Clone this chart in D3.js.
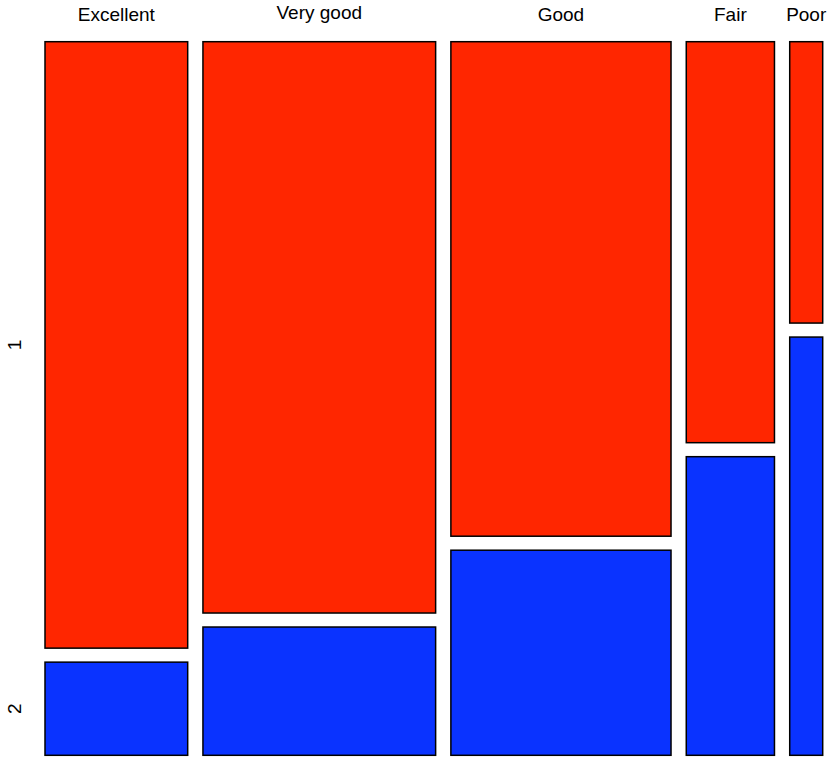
<!DOCTYPE html>
<html>
<head>
<meta charset="utf-8">
<script src="https://cdn.jsdelivr.net/npm/d3@7"></script>
<style>
  html, body { margin: 0; padding: 0; background: #ffffff; }
  svg { display: block; }
</style>
</head>
<body>
<div id="chart"></div>
<script>
// ---- data ----
const categories = ["Excellent", "Very good", "Good", "Fair", "Poor"];
const groups = ["1", "2"];
const group1Counts = [345, 530, 434, 141, 37];
const group2Counts = [53, 119, 180, 105, 55];
const groupColors = ["#FF2600", "#0A33FF"];

// ---- layout ----
const width = 829, height = 758;
const plot = { left: 45, right: 822.7, top: 41.7, bottom: 755.3 };
const gapX = 15.25, gapY = 14;
const fontSize = 19;
const fontFamily = "'Liberation Sans', Arial, Helvetica, sans-serif";

const svg = d3.select("#chart").append("svg")
  .attr("width", width).attr("height", height);

const colTotals = categories.map((c, i) => group1Counts[i] + group2Counts[i]);
const grand = d3.sum(colTotals);
const availW = (plot.right - plot.left) - gapX * (categories.length - 1);
const availH = (plot.bottom - plot.top) - gapY * (groups.length - 1);

const xScale = d3.scaleLinear().domain([0, grand]).range([0, availW]);
const yScale = d3.scaleLinear().domain([0, 1]).range([0, availH]);

const cum = d3.cumsum([0].concat(colTotals));
const cells = [];
categories.forEach((cat, i) => {
  const x0 = plot.left + xScale(cum[i]) + i * gapX;
  const w = xScale(colTotals[i]);
  const counts = [group1Counts[i], group2Counts[i]];
  let yCum = 0;
  counts.forEach((v, g) => {
    const p = v / colTotals[i];
    const y0 = plot.top + yScale(yCum) + g * gapY;
    cells.push({ cat, i, g, x: x0, y: y0, w, h: yScale(p) });
    yCum += p;
  });
});

svg.append("g").selectAll("rect").data(cells).join("rect")
  .attr("x", d => d.x).attr("y", d => d.y)
  .attr("width", d => d.w).attr("height", d => d.h)
  .attr("fill", d => groupColors[d.g])
  .attr("stroke", "#000").attr("stroke-width", 1.5);

// measure glyph extents to center labels on their ink box (like R)
const ctx = document.createElement("canvas").getContext("2d");
ctx.font = fontSize + "px " + fontFamily;
function inkOffset(t) {
  const m = ctx.measureText(t);
  return (m.actualBoundingBoxAscent - m.actualBoundingBoxDescent) / 2;
}

// top category labels
const labelCenterY = 14.4;
svg.append("g").selectAll("text").data(categories).join("text")
  .attr("x", (d, i) => plot.left + xScale(cum[i] + colTotals[i] / 2) + i * gapX)
  .attr("y", d => labelCenterY + inkOffset(d))
  .attr("text-anchor", "middle")
  .style("font-family", fontFamily).style("font-size", fontSize + "px")
  .attr("fill", "#000")
  .text(d => d);

// left group labels (rotated), centered on first column's cells
const firstCol = cells.filter(c => c.i === 0);
const labelCenterX = 14.5;
svg.append("g").selectAll("text").data(firstCol).join("text")
  .attr("transform", d => `translate(${labelCenterX + inkOffset(groups[d.g])},${d.y + d.h / 2}) rotate(-90)`)
  .attr("text-anchor", "middle")
  .style("font-family", fontFamily).style("font-size", fontSize + "px")
  .attr("fill", "#000")
  .text(d => groups[d.g]);
</script>
</body>
</html>
